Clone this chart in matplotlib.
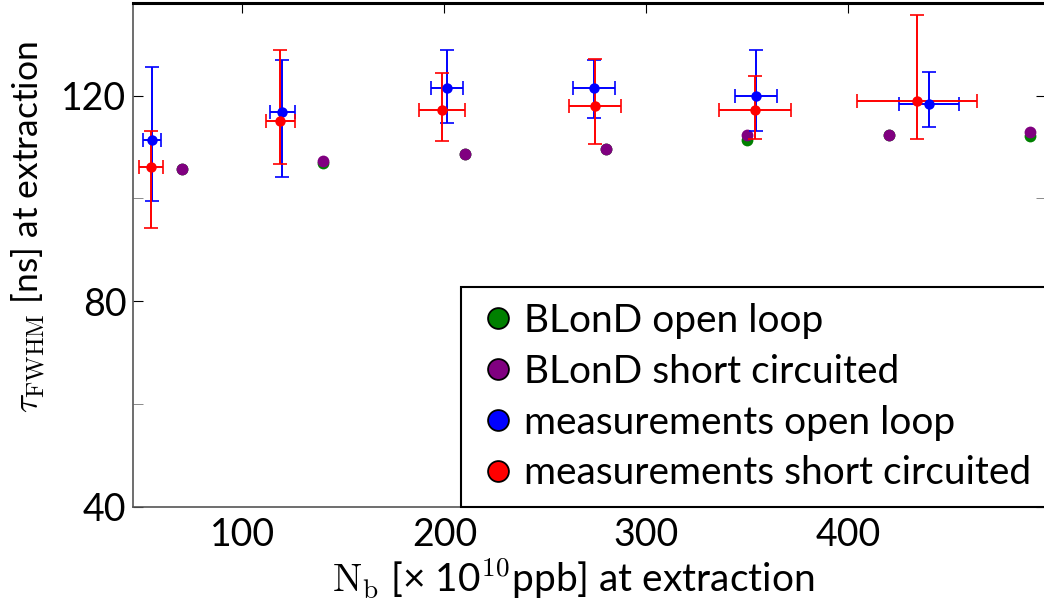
import matplotlib
matplotlib.use("Agg")
import matplotlib.pyplot as plt
from matplotlib.lines import Line2D

# BLonD simulations
N_sim = [70, 140, 210, 280, 350, 420, 490]
tau_open_sim = [105.7, 107.0, 108.7, 109.6, 111.4, 112.3, 112.1]
tau_short_sim = [105.7, 107.2, 108.7, 109.6, 112.3, 112.3, 113.0]

# measurements, open loop
N_open = [55.3, 119.8, 201.2, 274.0, 354.1, 439.9]
N_open_err = [4.4, 6.2, 7.8, 10.5, 10.3, 14.8]
tau_open = [111.4, 116.8, 121.4, 121.4, 119.9, 118.4]
tau_open_lo = [11.8, 12.6, 6.8, 5.7, 6.7, 4.4]
tau_open_hi = [14.2, 10.1, 7.5, 5.6, 9.0, 6.3]

# measurements, short circuited
N_short = [54.9, 118.8, 198.8, 274.5, 353.7, 434.0]
N_short_err = [6.0, 7.3, 11.4, 12.7, 17.8, 29.6]
tau_short = [106.2, 115.1, 117.3, 117.9, 117.3, 119.0]
tau_short_lo = [11.9, 8.3, 6.1, 7.3, 5.8, 7.4]
tau_short_hi = [7.0, 13.8, 7.2, 9.2, 6.5, 16.7]

labels = ["BLonD open loop", "BLonD short circuited",
          "measurements open loop", "measurements short circuited"]
colors = ["#008000", "#800080", "#0000ff", "#ff0000"]

plt.rcParams['font.family'] = ['Lato', 'DejaVu Sans']
plt.rcParams['mathtext.fontset'] = 'cm'

fig = plt.figure(figsize=(10.44, 6.10), dpi=100)
ax = fig.add_axes([0.1277, 0.169, 0.8746, 0.8258])

ax.plot(N_sim, tau_open_sim, 'o', color=colors[0], ms=8.5, mec='none')
ax.plot(N_sim, tau_short_sim, 'o', color=colors[1], ms=8.5, mec='none')
ax.errorbar(N_open, tau_open, xerr=N_open_err, yerr=[tau_open_lo, tau_open_hi],
            fmt='o', color=colors[2], ms=7.5, mec='none', elinewidth=1.4,
            capsize=5, capthick=1.2)
ax.errorbar(N_short, tau_short, xerr=N_short_err, yerr=[tau_short_lo, tau_short_hi],
            fmt='o', color=colors[3], ms=7.5, mec='none', elinewidth=1.4,
            capsize=5, capthick=1.2)

ax.set_xlim(46, 498)
ax.set_ylim(40, 138)
ax.set_xticks([100, 200, 300, 400])
ax.set_yticks([40, 80, 120])
ax.set_yticks([60, 100], minor=True)
ax.tick_params(axis='both', which='both', direction='in', labelsize=27)
ax.tick_params(axis='y', which='both', left=True, right=True, length=7, pad=5)
ax.tick_params(axis='y', which='minor', color='#777777')
ax.tick_params(axis='x', top=True, bottom=False, length=7, pad=7)

for side in ['left', 'bottom']:
    ax.spines[side].set_color('#555555')
    ax.spines[side].set_linewidth(1.2)
ax.spines['top'].set_linewidth(2.2)

ax.set_xlabel(r'$\mathrm{N_b}$ [× 10$^{\mathsf{10}}$ppb] at extraction', fontsize=28)
ax.set_ylabel(r'$\tau_{\mathrm{FWHM}}$ [ns] at extraction', fontsize=25.5)
ax.xaxis.set_label_coords(0.482, -0.097)
ax.yaxis.set_label_coords(-0.093, 0.555)

handles = [Line2D([], [], ls='none', marker='o', ms=15, mfc=c, mec='black', mew=1.3)
           for c in colors]
leg = ax.legend(handles, labels, loc='lower right', fontsize=28, borderaxespad=0,
                handletextpad=0.1, handlelength=1.1, labelspacing=0.38,
                fancybox=False, framealpha=1, borderpad=0.4)
leg.get_frame().set_edgecolor('black')
leg.get_frame().set_linewidth(1.5)

fig.savefig("out.png", dpi=100)
